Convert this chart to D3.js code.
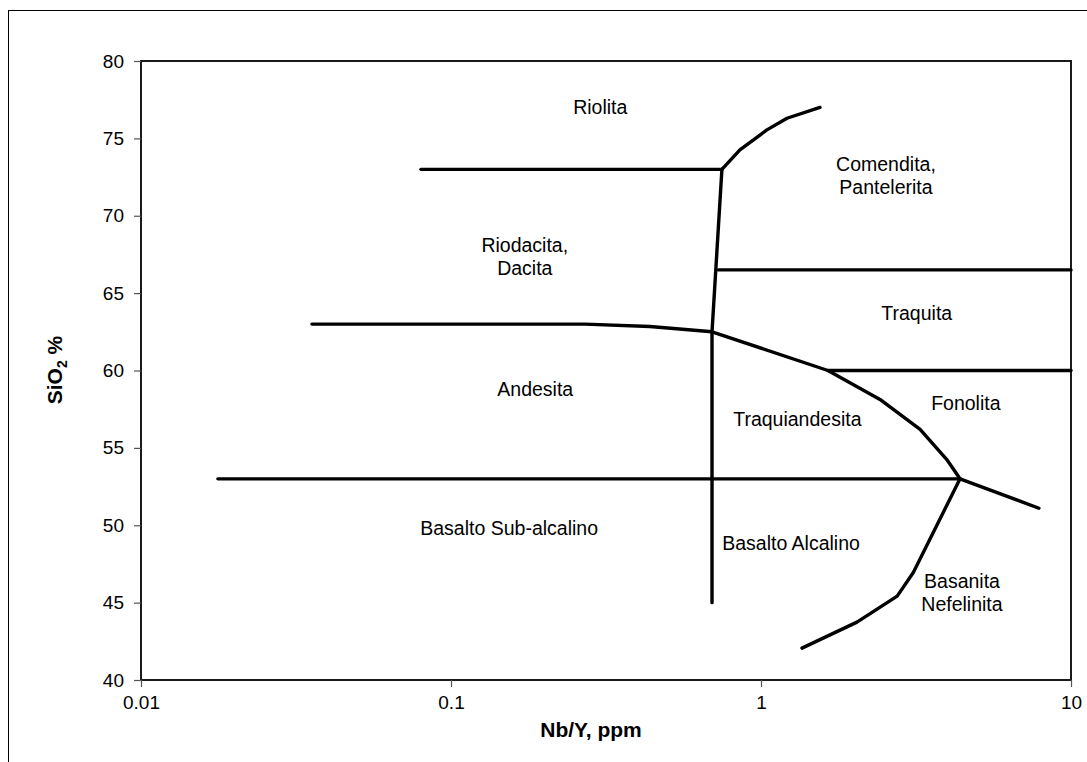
<!DOCTYPE html>
<html>
<head>
<meta charset="utf-8">
<script src="https://cdn.jsdelivr.net/npm/d3@7/dist/d3.min.js"></script>
<style>
  html, body { margin: 0; padding: 0; background: #fff; }
  svg { display: block; font-family: "Liberation Sans", Arial, sans-serif; }
</style>
</head>
<body>
<svg id="chart" width="1087" height="762"></svg>
<script>
// Nb/Y vs SiO2 classification diagram (Winchester & Floyd style)
const xTicks = [0.01, 0.1, 1, 10];
const yTicks = [40, 45, 50, 55, 60, 65, 70, 75, 80];

// Field boundaries: [Nb/Y, SiO2 %]
const riolitaLine      = [[0.08, 73], [0.748, 73]];
const comenditaCurve   = [[0.748, 73], [0.855, 74.26], [1.045, 75.55], [1.213, 76.3], [1.55, 77]];
const alkalineDivide   = [[0.748, 73], [0.695, 62.5], [0.695, 45]];
const traquitaUpper    = [[0.728, 66.5], [10, 66.5]];
const andesitaLine     = [[0.0356, 63], [0.27, 63], [0.438, 62.84], [0.695, 62.5]];
const traquiandCurve   = [[0.695, 62.5], [1.644, 60], [2.42, 58.13], [3.26, 56.19], [3.97, 54.26], [4.385, 53]];
const fonolitaLine     = [[1.644, 60], [10, 60]];
const basaltLine       = [[0.0177, 53], [4.385, 53]];
const fonolitaBasanita = [[4.385, 53], [7.88, 51.1]];
const basanitaCurve    = [[4.385, 53], [3.10, 46.95], [2.75, 45.42], [2.04, 43.74], [1.356, 42.06]];

const boundaries = [riolitaLine, comenditaCurve, alkalineDivide, traquitaUpper, andesitaLine,
                    traquiandCurve, fonolitaLine, basaltLine, fonolitaBasanita, basanitaCurve];

// Field names, anchored at the baseline of their first line
const fieldNames  = [["Riolita"], ["Comendita,", "Pantelerita"], ["Riodacita,", "Dacita"], ["Traquita"],
                     ["Andesita"], ["Traquiandesita"], ["Fonolita"], ["Basalto Sub-alcalino"],
                     ["Basalto Alcalino"], ["Basanita", "Nefelinita"]];
const fieldNbY    = [0.303, 2.53, 0.173, 3.18, 0.187, 1.31, 4.58, 0.154, 1.25, 4.45];
const fieldSiO2   = [76.58, 72.9, 67.68, 63.29, 58.32, 56.39, 57.42, 49.35, 48.39, 45.94];

const svg = d3.select("#chart");
const margin = { left: 141, top: 61, right: 16, bottom: 82 };
const W = 1087 - margin.left - margin.right;
const H = 762 - margin.top - margin.bottom;

// outer chart border (runs off the right and bottom edges)
svg.append("rect")
  .attr("x", 8.5).attr("y", 10.5).attr("width", 1200).attr("height", 1200)
  .attr("fill", "none").attr("stroke", "#000").attr("stroke-width", 1);

const g = svg.append("g").attr("transform", `translate(${margin.left},${margin.top})`);

const x = d3.scaleLog().domain([0.01, 10]).range([0, W]);
const y = d3.scaleLinear().domain([40, 80]).range([H, 0]);

// plot frame
g.append("rect")
  .attr("x", 0).attr("y", 0).attr("width", W).attr("height", H)
  .attr("fill", "none").attr("stroke", "#1a1a1a").attr("stroke-width", 2);

const xAxis = d3.axisBottom(x).tickValues(xTicks).tickFormat(d => String(d)).tickSize(7).tickPadding(9);
const yAxis = d3.axisLeft(y).tickValues(yTicks).tickFormat(d3.format("d")).tickSize(7).tickPadding(10);

const gx = g.append("g").attr("transform", `translate(0,${H})`).call(xAxis);
const gy = g.append("g").call(yAxis);
[gx, gy].forEach(a => {
  a.select(".domain").remove();
  a.selectAll(".tick line").attr("stroke", "#555").attr("stroke-width", 1.2);
  a.selectAll(".tick text").attr("font-size", 19).attr("fill", "#000")
    .attr("font-family", "'Liberation Sans', Arial, sans-serif");
});
gx.selectAll(".tick text").attr("dy", "0.71em");

// boundary lines
const line = d3.line().x(d => x(d[0])).y(d => y(d[1]));
g.selectAll("path.boundary")
  .data(boundaries)
  .join("path")
  .attr("class", "boundary")
  .attr("d", line)
  .attr("fill", "none")
  .attr("stroke", "#000")
  .attr("stroke-width", 3.4)
  .attr("stroke-linejoin", "round")
  .attr("stroke-linecap", "round");

// field labels
fieldNames.forEach((lines, i) => {
  const t = g.append("text")
    .attr("x", x(fieldNbY[i])).attr("y", y(fieldSiO2[i]))
    .attr("text-anchor", "middle").attr("font-size", 19.5).attr("fill", "#000");
  lines.forEach((s, k) => {
    t.append("tspan").attr("x", x(fieldNbY[i])).attr("dy", k === 0 ? 0 : 23).text(s);
  });
});

// axis titles
svg.append("text")
  .attr("x", 591).attr("y", 737)
  .attr("text-anchor", "middle").attr("font-size", 21).attr("font-weight", "bold")
  .text("Nb/Y, ppm");

const yt = svg.append("text")
  .attr("transform", "translate(62,370) rotate(-90)")
  .attr("text-anchor", "middle").attr("font-size", 21).attr("font-weight", "bold");
yt.append("tspan").text("SiO");
yt.append("tspan").attr("font-size", 14).attr("dy", 5).text("2");
yt.append("tspan").attr("dy", -5).text(" %");
</script>
</body>
</html>
